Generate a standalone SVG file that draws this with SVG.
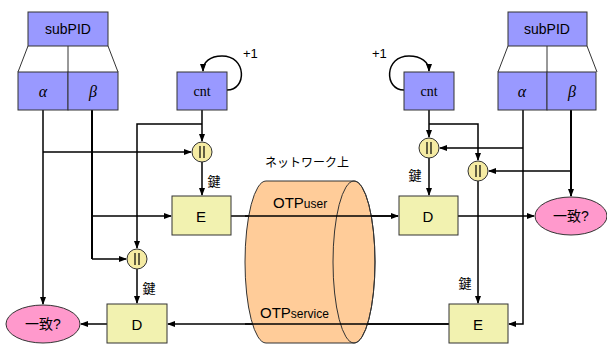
<svg xmlns="http://www.w3.org/2000/svg" width="607" height="344" viewBox="0 0 607 344">
<defs>
<marker id="ah" markerWidth="8" markerHeight="8" viewBox="0 0 8 8" refX="7" refY="4" orient="auto" markerUnits="userSpaceOnUse">
<path d="M0,1 L8,4 L0,7 Z" fill="#000"/>
</marker>
<style>
.blue{fill:#9999FF;stroke:#333;stroke-width:1}
.yel{fill:#F2F2B0;stroke:#333;stroke-width:1}
.pink{fill:#FF99CC;stroke:#333;stroke-width:1}
.xor{fill:#F5EBA3;stroke:#333;stroke-width:1}
.ln{fill:none;stroke:#000;stroke-width:1.5}
.bl{fill:none;stroke:#000;stroke-width:2}
.arr{marker-end:url(#ah)}
.t{font-family:"Liberation Sans",Arial,sans-serif;fill:#000}
.g{font-family:"Liberation Serif","Times New Roman",serif;fill:#000}
.k{font-family:"Liberation Sans","Noto Sans CJK JP",sans-serif;fill:#000}
</style>
</defs>

<g id="connectors">
<!-- left side -->
<path class="ln arr" d="M43,110 V304"/>
<path class="ln arr" d="M43,152 H191"/>
<path class="bl" d="M92,110 V259"/>
<path class="ln arr" d="M92,259 H126"/>
<path class="ln arr" d="M92,216 H171"/>
<path class="ln arr" d="M202,110 V141"/>
<path class="ln arr" d="M202,124 H137 V248"/>
<path class="ln arr" d="M202,162 V195"/>
<path class="ln arr" d="M137,269 V303"/>
<path class="ln arr" d="M107,324 H81"/>
<path class="ln arr" d="M227,90 C247,90 247,56 222,56 C210,56 203,62 203,71"/>
<path class="ln arr" d="M231,216 H398"/>
<path class="ln arr" d="M449,324 H168"/>
<!-- right side -->
<path class="ln arr" d="M429,110 V137"/>
<path class="ln arr" d="M429,124 H478 V160"/>
<path class="ln arr" d="M429,158 V195"/>
<path class="ln arr" d="M478,181 V303"/>
<path class="ln arr" d="M523,110 V324 H509"/>
<path class="ln arr" d="M523,148 H440"/>
<path class="bl arr" d="M571,110 V196"/>
<path class="ln arr" d="M571,171 H489"/>
<path class="ln arr" d="M458,216 H534"/>
<path class="ln arr" d="M404,90 C384,90 384,56 409,56 C421,56 429,62 429,71"/>
</g>

<g id="cylinder">
<path d="M266,181 H354 A21,81 0 0 1 354,343 H266 A21,81 0 0 1 266,181 Z" fill="#FFCC99" stroke="#333" stroke-width="1"/>
<ellipse cx="354" cy="262" rx="21" ry="81" fill="none" stroke="#333" stroke-width="1"/>
<path class="ln" d="M245,216 H398"/>
<path class="ln" d="M245,324 H449"/>
<text class="t" x="273" y="208" font-size="15">OTP<tspan font-size="12">user</tspan></text>
<text class="t" x="260" y="318" font-size="15">OTP<tspan font-size="12">service</tspan></text>
</g>
<text class="k" x="307" y="167" font-size="12" text-anchor="middle">ネットワーク上</text>

<g id="subPID-left">
<rect class="blue" x="28" y="12" width="80" height="34"/>
<text class="t" x="68" y="34" font-size="14" text-anchor="middle">subPID</text>
<path d="M28,46 L18,72 M108,46 L118,72 M68,46 V72" stroke="#333" stroke-width="1" fill="none"/>
<rect class="blue" x="18" y="72" width="50" height="38"/>
<rect class="blue" x="68" y="72" width="50" height="38"/>
<text class="g" x="43" y="97" font-size="16" font-style="italic" text-anchor="middle">α</text>
<text class="g" x="93" y="97" font-size="16" font-style="italic" text-anchor="middle">β</text>
</g>

<g id="subPID-right">
<rect class="blue" x="508" y="12" width="79" height="34"/>
<text class="t" x="547" y="34" font-size="14" text-anchor="middle">subPID</text>
<path d="M508,46 L498,72 M587,46 L597,72 M547,46 V72" stroke="#333" stroke-width="1" fill="none"/>
<rect class="blue" x="498" y="72" width="49" height="38"/>
<rect class="blue" x="547" y="72" width="49" height="38"/>
<text class="g" x="522" y="97" font-size="16" font-style="italic" text-anchor="middle">α</text>
<text class="g" x="572" y="97" font-size="16" font-style="italic" text-anchor="middle">β</text>
</g>

<g id="cnt-left">
<rect class="blue" x="177" y="72" width="50" height="38"/>
<text class="g" x="202" y="96" font-size="14" text-anchor="middle">cnt</text>
<text class="t" x="243" y="58" font-size="13">+1</text>
</g>
<g id="cnt-right">
<rect class="blue" x="404" y="72" width="50" height="38"/>
<text class="g" x="429" y="96" font-size="14" text-anchor="middle">cnt</text>
<text class="t" x="372" y="58" font-size="13">+1</text>
</g>

<g id="xor-1">
<circle class="xor" cx="202" cy="152" r="10"/>
<path d="M200,146 V158 M204,146 V158" stroke="#000" stroke-width="1.2"/>
</g>
<g id="xor-2">
<circle class="xor" cx="137" cy="259" r="10"/>
<path d="M135,253 V265 M139,253 V265" stroke="#000" stroke-width="1.2"/>
</g>
<g id="xor-3">
<circle class="xor" cx="429" cy="148" r="10"/>
<path d="M427,142 V154 M431,142 V154" stroke="#000" stroke-width="1.2"/>
</g>
<g id="xor-4">
<circle class="xor" cx="478" cy="171" r="10"/>
<path d="M476,165 V177 M480,165 V177" stroke="#000" stroke-width="1.2"/>
</g>

<g id="E-top">
<rect class="yel" x="172" y="196" width="59" height="39"/>
<text class="t" x="201" y="222" font-size="15" text-anchor="middle">E</text>
<text class="k" x="214" y="186" font-size="13" text-anchor="middle">鍵</text>
</g>
<g id="D-top">
<rect class="yel" x="399" y="196" width="59" height="39"/>
<text class="t" x="428" y="222" font-size="15" text-anchor="middle">D</text>
<text class="k" x="415" y="180" font-size="13" text-anchor="middle">鍵</text>
</g>
<g id="D-bottom">
<rect class="yel" x="107" y="304" width="60" height="39"/>
<text class="t" x="137" y="330" font-size="15" text-anchor="middle">D</text>
<text class="k" x="149" y="293" font-size="13" text-anchor="middle">鍵</text>
</g>
<g id="E-bottom">
<rect class="yel" x="449" y="304" width="59" height="39"/>
<text class="t" x="478" y="330" font-size="15" text-anchor="middle">E</text>
<text class="k" x="465" y="288" font-size="13" text-anchor="middle">鍵</text>
</g>

<g id="match-left">
<ellipse class="pink" cx="43" cy="324" rx="37" ry="19"/>
<text class="k" x="43" y="329" font-size="14" text-anchor="middle">一致?</text>
</g>
<g id="match-right">
<ellipse class="pink" cx="571" cy="216" rx="36" ry="19"/>
<text class="k" x="571" y="221" font-size="14" text-anchor="middle">一致?</text>
</g>
</svg>
